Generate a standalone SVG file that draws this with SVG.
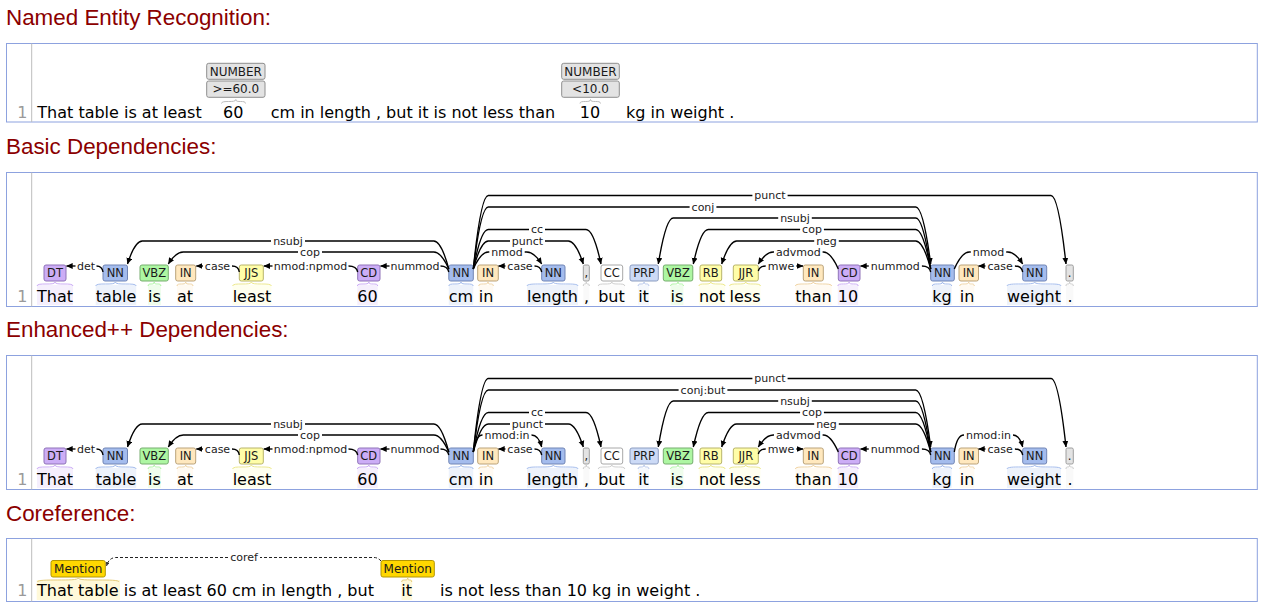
<svg xmlns="http://www.w3.org/2000/svg" width="1263" height="610" viewBox="0 0 1263 610">
<defs>
<marker id="ah" viewBox="0 0 10 10" refX="9.5" refY="5" markerWidth="6.5" markerHeight="6.5" markerUnits="userSpaceOnUse" orient="auto"><path d="M0,0.5 L10,5 L0,9.5 z" fill="#000"/></marker>
<marker id="ah2" viewBox="0 0 10 10" refX="9.5" refY="5" markerWidth="4" markerHeight="4" markerUnits="userSpaceOnUse" orient="auto"><path d="M0,0.5 L10,5 L0,9.5 z" fill="#333"/></marker>
</defs>
<style>
.tt{font-family:"Liberation Sans",Arial,sans-serif;font-size:22.4px;fill:#8B0000}
.fr{fill:#fff;stroke:#8DA2DF;stroke-width:1}
.gt{stroke:#BDBDBD;stroke-width:1}
.ln{font-family:"DejaVu Sans",Verdana,sans-serif;font-size:16px;fill:#9a9a9a;text-anchor:end}
.tk{font-family:"DejaVu Sans",Verdana,sans-serif;font-size:16px;fill:#000;text-anchor:middle}
.sg{font-family:"DejaVu Sans",Verdana,sans-serif;font-size:16px;fill:#000}
.pl{font-family:"DejaVu Sans",Verdana,sans-serif;font-size:11.5px;fill:#1a1a1a;text-anchor:middle}
.al{font-family:"DejaVu Sans",Verdana,sans-serif;font-size:11px;fill:#222;text-anchor:middle}
.nl{font-family:"DejaVu Sans",Verdana,sans-serif;font-size:12px;fill:#1a1a1a;text-anchor:middle}
.a{fill:none;stroke:#000;stroke-width:1.35}
.d{marker-end:url(#ah)}
.cr{fill:none;stroke:#222;stroke-width:1;stroke-dasharray:3,2}
.cu{fill:none;stroke-width:1}
.hl{opacity:.2}
.nn .bx{fill:#A4BCED;stroke:#7185B5}.nn .cu{stroke:#A4BCED}.nn .hl{fill:#A4BCED}
.vb .bx{fill:#ADF6A2;stroke:#76AD6E}.vb .cu{stroke:#ADF6A2}.vb .hl{fill:#ADF6A2}
.in .bx{fill:#FFE8BE;stroke:#BBA37A}.in .cu{stroke:#F0D4A4}.in .hl{fill:#FFE8BE}
.jj .bx{fill:#FFFDA8;stroke:#B8B46A}.jj .cu{stroke:#EDE98C}.jj .hl{fill:#FFFDA8}
.cd .bx{fill:#CCADF6;stroke:#8F73B8}.cd .cu{stroke:#CCADF6}.cd .hl{fill:#CCADF6}
.prp .bx{fill:#CCDAF6;stroke:#8C9DC0}.prp .cu{stroke:#B8C8EC}.prp .hl{fill:#CCDAF6}
.cc .bx{fill:#FFFFFF;stroke:#A8A8A8}.cc .cu{stroke:#CFCFCF}.cc .hl{fill:#EEEEEE}
.pu .bx{fill:#E3E3E3;stroke:#9E9E9E}.pu .cu{stroke:#CCCCCC}.pu .hl{fill:#E3E3E3}
.ne .bx{fill:#E3E3E3;stroke:#8E8E8E}.ne .cu{stroke:#BDBDBD}
.me .bx{fill:#FFD700;stroke:#B39700}.me .cu{stroke:#E6CC7A}.me .hl{fill:#FFD700}
</style>

<text class="tt" x="6" y="25">Named Entity Recognition:</text>
<text class="tt" x="6" y="154">Basic Dependencies:</text>
<text class="tt" x="6" y="337">Enhanced++ Dependencies:</text>
<text class="tt" x="6" y="520.5">Coreference:</text>

<!-- NER -->
<g id="ner-frame">
<rect class="fr" x="6.5" y="43.5" width="1250.8" height="78.5"/>
<line class="gt" x1="31.7" y1="43.5" x2="31.7" y2="122"/>
<text class="ln" x="27.5" y="117.8">1</text>
<text class="sg" x="37.3" y="117.8">That table is at least</text>
<text class="tk" x="233.3" y="117.8">60</text>
<text class="sg" x="270.7" y="117.8">cm in length , but it is not less than</text>
<text class="tk" x="590" y="117.8">10</text>
<text class="sg" x="626" y="117.8">kg in weight .</text>
</g>
<g id="ner-60" class="ne">
<path class="cu" d="M221.5,103.5 C221.5,99.5 235.8,103.5 235.8,99.5 C235.8,103.5 245.5,99.5 245.5,103.5"/>
<rect class="bx" x="206.7" y="63.3" width="58.3" height="16" rx="2"/>
<text class="nl" x="235.8" y="75.6">NUMBER</text>
<rect class="bx" x="206.7" y="81" width="58.3" height="16.3" rx="2"/>
<text class="nl" x="235.8" y="93.4">&gt;=60.0</text>
</g>
<g id="ner-10" class="ne">
<path class="cu" d="M580,103.5 C580,99.5 590.5,103.5 590.5,99.5 C590.5,103.5 600.5,99.5 600.5,103.5"/>
<rect class="bx" x="561.7" y="63.3" width="57.6" height="16" rx="2"/>
<text class="nl" x="590.5" y="75.6">NUMBER</text>
<rect class="bx" x="561.7" y="81" width="57.6" height="16.3" rx="2"/>
<text class="nl" x="590.5" y="93.4">&lt;10.0</text>
</g>

<!-- BASIC -->
<g id="basic-frame">
<rect class="fr" x="6.5" y="172.5" width="1250.8" height="134"/>
<line class="gt" x1="31.7" y1="172.5" x2="31.7" y2="306.5"/>
<text class="ln" x="27.5" y="302">1</text>
</g>
<g id="b1" class="cd"><rect class="hl" x="37" y="285" width="36" height="20"/><path class="cu" d="M37,286 C37,282 55,286 55,282 C55,286 73,282 73,286"/><rect class="bx" x="44" y="265" width="22" height="16" rx="2"/><text class="pl" x="55" y="277">DT</text><text class="tk" x="55" y="302">That</text></g>
<g id="b2" class="nn"><rect class="hl" x="95.7" y="285" width="40.5" height="20"/><path class="cu" d="M95.7,286 C95.7,282 115.3,286 115.3,282 C115.3,286 136.2,282 136.2,286"/><rect class="bx" x="103" y="265" width="24.5" height="16" rx="2"/><text class="pl" x="115.3" y="277">NN</text><text class="tk" x="116" y="302">table</text></g>
<g id="b3" class="vb"><rect class="hl" x="148.1" y="285" width="12.8" height="20"/><path class="cu" d="M148.1,286 C148.1,282 154.2,286 154.2,282 C154.2,286 160.9,282 160.9,286"/><rect class="bx" x="140" y="265" width="28.3" height="16" rx="2"/><text class="pl" x="154.2" y="277">VBZ</text><text class="tk" x="154.5" y="302">is</text></g>
<g id="b4" class="in"><rect class="hl" x="177" y="285" width="16" height="20"/><path class="cu" d="M177,286 C177,282 185.7,286 185.7,282 C185.7,286 193,282 193,286"/><rect class="bx" x="175.7" y="265" width="20" height="16" rx="2"/><text class="pl" x="185.7" y="277">IN</text><text class="tk" x="185" y="302">at</text></g>
<g id="b5" class="jj"><rect class="hl" x="232.6" y="285" width="38.8" height="20"/><path class="cu" d="M232.6,286 C232.6,282 251.3,286 251.3,282 C251.3,286 271.4,282 271.4,286"/><rect class="bx" x="239.3" y="265" width="24" height="16" rx="2"/><text class="pl" x="251.3" y="277">JJS</text><text class="tk" x="252" y="302">least</text></g>
<g id="b6" class="cd"><rect class="hl" x="357.3" y="285" width="20.4" height="20"/><path class="cu" d="M357.3,286 C357.3,282 368.8,286 368.8,282 C368.8,286 377.7,282 377.7,286"/><rect class="bx" x="357.7" y="265" width="22.3" height="16" rx="2"/><text class="pl" x="368.8" y="277">CD</text><text class="tk" x="367.5" y="302">60</text></g>
<g id="b7" class="nn"><rect class="hl" x="448.8" y="285" width="24.4" height="20"/><path class="cu" d="M448.8,286 C448.8,282 461,286 461,282 C461,286 473.2,282 473.2,286"/><rect class="bx" x="448.8" y="265" width="24.5" height="16" rx="2"/><text class="pl" x="461" y="277">NN</text><text class="tk" x="461" y="302">cm</text></g>
<g id="b8" class="in"><rect class="hl" x="478.7" y="285" width="14.6" height="20"/><path class="cu" d="M478.7,286 C478.7,282 488,286 488,282 C488,286 493.3,282 493.3,286"/><rect class="bx" x="477.7" y="265" width="20.6" height="16" rx="2"/><text class="pl" x="488" y="277">IN</text><text class="tk" x="486" y="302">in</text></g>
<g id="b9" class="nn"><rect class="hl" x="527" y="285" width="51" height="20"/><path class="cu" d="M527,286 C527,282 553.3,286 553.3,282 C553.3,286 578,282 578,286"/><rect class="bx" x="541.7" y="265" width="23.3" height="16" rx="2"/><text class="pl" x="553.3" y="277">NN</text><text class="tk" x="552.5" y="302">length</text></g>
<g id="b10" class="pu"><rect class="hl" x="583.3" y="285" width="6" height="20"/><path class="cu" d="M583.3,286 C583.3,282 586.3,286 586.3,282 C586.3,286 589.3,282 589.3,286"/><rect class="bx" x="583.3" y="265" width="6" height="16" rx="1.5"/><text class="pl" x="586.3" y="277">,</text><text class="tk" x="586.5" y="302">,</text></g>
<g id="b11" class="cc"><rect class="hl" x="598.2" y="285" width="26.6" height="20"/><path class="cu" d="M598.2,286 C598.2,282 611.8,286 611.8,282 C611.8,286 624.8,282 624.8,286"/><rect class="bx" x="601" y="265" width="21.7" height="16" rx="2"/><text class="pl" x="611.8" y="277">CC</text><text class="tk" x="611.5" y="302">but</text></g>
<g id="b12" class="prp"><rect class="hl" x="638.1" y="285" width="10.8" height="20"/><path class="cu" d="M638.1,286 C638.1,282 644.1,286 644.1,282 C644.1,286 648.9,282 648.9,286"/><rect class="bx" x="630" y="265" width="28.3" height="16" rx="2"/><text class="pl" x="644.1" y="277">PRP</text><text class="tk" x="643.5" y="302">it</text></g>
<g id="b13" class="vb"><rect class="hl" x="670.6" y="285" width="12.8" height="20"/><path class="cu" d="M670.6,286 C670.6,282 678,286 678,282 C678,286 683.4,282 683.4,286"/><rect class="bx" x="663.3" y="265" width="29.5" height="16" rx="2"/><text class="pl" x="678" y="277">VBZ</text><text class="tk" x="677" y="302">is</text></g>
<g id="b14" class="jj"><rect class="hl" x="698.9" y="285" width="26.2" height="20"/><path class="cu" d="M698.9,286 C698.9,282 710.8,286 710.8,282 C710.8,286 725.1,282 725.1,286"/><rect class="bx" x="700" y="265" width="21.7" height="16" rx="2"/><text class="pl" x="710.8" y="277">RB</text><text class="tk" x="712" y="302">not</text></g>
<g id="b15" class="jj"><rect class="hl" x="729.5" y="285" width="31" height="20"/><path class="cu" d="M729.5,286 C729.5,282 745.8,286 745.8,282 C745.8,286 760.5,282 760.5,286"/><rect class="bx" x="733.3" y="265" width="25" height="16" rx="2"/><text class="pl" x="745.8" y="277">JJR</text><text class="tk" x="745" y="302">less</text></g>
<g id="b16" class="in"><rect class="hl" x="795.3" y="285" width="36.4" height="20"/><path class="cu" d="M795.3,286 C795.3,282 813.3,286 813.3,282 C813.3,286 831.7,282 831.7,286"/><rect class="bx" x="803.3" y="265" width="20" height="16" rx="2"/><text class="pl" x="813.3" y="277">IN</text><text class="tk" x="813.5" y="302">than</text></g>
<g id="b17" class="cd"><rect class="hl" x="837.8" y="285" width="20.4" height="20"/><path class="cu" d="M837.8,286 C837.8,282 849.1,286 849.1,282 C849.1,286 858.2,282 858.2,286"/><rect class="bx" x="838.3" y="265" width="21.7" height="16" rx="2"/><text class="pl" x="849.1" y="277">CD</text><text class="tk" x="848" y="302">10</text></g>
<g id="b18" class="nn"><rect class="hl" x="932.3" y="285" width="19.4" height="20"/><path class="cu" d="M932.3,286 C932.3,282 942.5,286 942.5,282 C942.5,286 951.7,282 951.7,286"/><rect class="bx" x="930.7" y="265" width="23.6" height="16" rx="2"/><text class="pl" x="942.5" y="277">NN</text><text class="tk" x="942" y="302">kg</text></g>
<g id="b19" class="in"><rect class="hl" x="959.7" y="285" width="14.6" height="20"/><path class="cu" d="M959.7,286 C959.7,282 968.7,286 968.7,282 C968.7,286 974.3,282 974.3,286"/><rect class="bx" x="959" y="265" width="19.5" height="16" rx="2"/><text class="pl" x="968.7" y="277">IN</text><text class="tk" x="967" y="302">in</text></g>
<g id="b20" class="nn"><rect class="hl" x="1007" y="285" width="54" height="20"/><path class="cu" d="M1007,286 C1007,282 1034.7,286 1034.7,282 C1034.7,286 1061,282 1061,286"/><rect class="bx" x="1022.7" y="265" width="24" height="16" rx="2"/><text class="pl" x="1034.7" y="277">NN</text><text class="tk" x="1034" y="302">weight</text></g>
<g id="b21" class="pu"><rect class="hl" x="1066" y="285" width="7.3" height="20"/><path class="cu" d="M1066,286 C1066,282 1069.6,286 1069.6,282 C1069.6,286 1073.3,282 1073.3,286"/><rect class="bx" x="1066" y="265" width="7.3" height="16" rx="1.5"/><text class="pl" x="1069.6" y="277">.</text><text class="tk" x="1070" y="302">.</text></g>

<g id="basic-arcs">
<path class="a d" d="M75.5,266 H66.5"/><path class="a" d="M96.5,266 Q102,266 103,272"/><text class="al" x="86" y="269.8">det</text>
<path class="a d" d="M203,266 H196.3"/><path class="a" d="M232,266 Q238.5,266 239.3,272"/><text class="al" x="217.5" y="269.8">case</text>
<path class="a d" d="M272.5,266 H263.8"/><path class="a" d="M348.5,266 Q356.5,266 357.7,272"/><text class="al" x="310.5" y="269.8">nmod:npmod</text>
<path class="a d" d="M389.5,266 H380.5"/><path class="a" d="M440.5,266 Q447.5,266 448.8,272"/><text class="al" x="415" y="269.8">nummod</text>
<path class="a d" d="M271,241 H142.3 Q134.8,241 127.5,264"/><path class="a" d="M305,241 H433.8 Q441.3,241 448.8,269"/><text class="al" x="288" y="244.8">nsubj</text>
<path class="a d" d="M298,252 H183.3 Q175.8,252 168.3,264"/><path class="a" d="M322,252 H433.8 Q441.3,252 448.8,269"/><text class="al" x="310" y="255.8">cop</text>
<path class="a d" d="M505.5,266 H498.5"/><path class="a" d="M534.5,266 Q540.5,266 541.7,272"/><text class="al" x="520" y="269.8">case</text>
<path class="a" d="M489.3,252 H488.3 Q480.8,252 473.3,269"/><path class="a d" d="M524.7,252 H526.7 Q534.2,252 541.7,264"/><text class="al" x="507" y="255.8">nmod</text>
<path class="a" d="M510,241 H488.3 Q480.8,241 473.3,269"/><path class="a d" d="M545,241 H568.3 Q575.8,241 583.3,264"/><text class="al" x="527.5" y="244.8">punct</text>
<path class="a" d="M529,229.5 H488.3 Q480.8,229.5 473.3,269"/><path class="a d" d="M545,229.5 H586 Q593.5,229.5 601,264"/><text class="al" x="537" y="233.3">cc</text>
<path class="a" d="M689.6,207 H488.3 Q480.8,207 473.3,269"/><path class="a d" d="M716.4,207 H915.7 Q923.2,207 930.7,264"/><text class="al" x="703" y="210.8">conj</text>
<path class="a" d="M752.4,195.5 H488.3 Q480.8,195.5 473.3,269"/><path class="a d" d="M787.6,195.5 H1051 Q1058.5,195.5 1066,264"/><text class="al" x="770" y="199.3">punct</text>
<path class="a d" d="M778.2,218 H673.3 Q665.8,218 658.3,264"/><path class="a" d="M811.8,218 H915.7 Q923.2,218 930.7,269"/><text class="al" x="795" y="221.8">nsubj</text>
<path class="a d" d="M800.1,229.5 H708.3 Q700.8,229.5 693.3,264"/><path class="a" d="M823.9,229.5 H915.7 Q923.2,229.5 930.7,269"/><text class="al" x="812" y="233.3">cop</text>
<path class="a d" d="M814.2,241 H736.7 Q729.2,241 721.7,264"/><path class="a" d="M838.8,241 H915.7 Q923.2,241 930.7,269"/><text class="al" x="826.5" y="244.8">neg</text>
<path class="a d" d="M774,252 H773.3 Q765.8,252 758.3,264"/><path class="a" d="M822.6,252 H823.3 Q830.8,252 838.3,269"/><text class="al" x="798.3" y="255.8">advmod</text>
<path class="a" d="M765.7,266 Q759.5,266 758.3,271"/><path class="a d" d="M796.3,266 H803"/><text class="al" x="781" y="269.8">mwe</text>
<path class="a d" d="M868.8,266 H860.5"/><path class="a" d="M921.9,266 Q929.5,266 930.7,272"/><text class="al" x="895.3" y="269.8">nummod</text>
<path class="a" d="M970.8,252 H969.3 Q961.8,252 954.3,269"/><path class="a d" d="M1006.2,252 H1007.7 Q1015.2,252 1022.7,264"/><text class="al" x="988.5" y="255.8">nmod</text>
<path class="a d" d="M985.5,266 H978.5"/><path class="a" d="M1014.9,266 Q1021.5,266 1022.7,272"/><text class="al" x="1000.2" y="269.8">case</text>
</g>

<!-- ENHANCED -->
<g id="enh-frame">
<rect class="fr" x="6.5" y="355.5" width="1250.8" height="134"/>
<line class="gt" x1="31.7" y1="355.5" x2="31.7" y2="489.5"/>
<text class="ln" x="27.5" y="485">1</text>
</g>
<g transform="translate(0,183)">
<g id="e1" class="cd"><rect class="hl" x="37" y="285" width="36" height="20"/><path class="cu" d="M37,286 C37,282 55,286 55,282 C55,286 73,282 73,286"/><rect class="bx" x="44" y="265" width="22" height="16" rx="2"/><text class="pl" x="55" y="277">DT</text><text class="tk" x="55" y="302">That</text></g>
<g id="e2" class="nn"><rect class="hl" x="95.7" y="285" width="40.5" height="20"/><path class="cu" d="M95.7,286 C95.7,282 115.3,286 115.3,282 C115.3,286 136.2,282 136.2,286"/><rect class="bx" x="103" y="265" width="24.5" height="16" rx="2"/><text class="pl" x="115.3" y="277">NN</text><text class="tk" x="116" y="302">table</text></g>
<g id="e3" class="vb"><rect class="hl" x="148.1" y="285" width="12.8" height="20"/><path class="cu" d="M148.1,286 C148.1,282 154.2,286 154.2,282 C154.2,286 160.9,282 160.9,286"/><rect class="bx" x="140" y="265" width="28.3" height="16" rx="2"/><text class="pl" x="154.2" y="277">VBZ</text><text class="tk" x="154.5" y="302">is</text></g>
<g id="e4" class="in"><rect class="hl" x="177" y="285" width="16" height="20"/><path class="cu" d="M177,286 C177,282 185.7,286 185.7,282 C185.7,286 193,282 193,286"/><rect class="bx" x="175.7" y="265" width="20" height="16" rx="2"/><text class="pl" x="185.7" y="277">IN</text><text class="tk" x="185" y="302">at</text></g>
<g id="e5" class="jj"><rect class="hl" x="232.6" y="285" width="38.8" height="20"/><path class="cu" d="M232.6,286 C232.6,282 251.3,286 251.3,282 C251.3,286 271.4,282 271.4,286"/><rect class="bx" x="239.3" y="265" width="24" height="16" rx="2"/><text class="pl" x="251.3" y="277">JJS</text><text class="tk" x="252" y="302">least</text></g>
<g id="e6" class="cd"><rect class="hl" x="357.3" y="285" width="20.4" height="20"/><path class="cu" d="M357.3,286 C357.3,282 368.8,286 368.8,282 C368.8,286 377.7,282 377.7,286"/><rect class="bx" x="357.7" y="265" width="22.3" height="16" rx="2"/><text class="pl" x="368.8" y="277">CD</text><text class="tk" x="367.5" y="302">60</text></g>
<g id="e7" class="nn"><rect class="hl" x="448.8" y="285" width="24.4" height="20"/><path class="cu" d="M448.8,286 C448.8,282 461,286 461,282 C461,286 473.2,282 473.2,286"/><rect class="bx" x="448.8" y="265" width="24.5" height="16" rx="2"/><text class="pl" x="461" y="277">NN</text><text class="tk" x="461" y="302">cm</text></g>
<g id="e8" class="in"><rect class="hl" x="478.7" y="285" width="14.6" height="20"/><path class="cu" d="M478.7,286 C478.7,282 488,286 488,282 C488,286 493.3,282 493.3,286"/><rect class="bx" x="477.7" y="265" width="20.6" height="16" rx="2"/><text class="pl" x="488" y="277">IN</text><text class="tk" x="486" y="302">in</text></g>
<g id="e9" class="nn"><rect class="hl" x="527" y="285" width="51" height="20"/><path class="cu" d="M527,286 C527,282 553.3,286 553.3,282 C553.3,286 578,282 578,286"/><rect class="bx" x="541.7" y="265" width="23.3" height="16" rx="2"/><text class="pl" x="553.3" y="277">NN</text><text class="tk" x="552.5" y="302">length</text></g>
<g id="e10" class="pu"><rect class="hl" x="583.3" y="285" width="6" height="20"/><path class="cu" d="M583.3,286 C583.3,282 586.3,286 586.3,282 C586.3,286 589.3,282 589.3,286"/><rect class="bx" x="583.3" y="265" width="6" height="16" rx="1.5"/><text class="pl" x="586.3" y="277">,</text><text class="tk" x="586.5" y="302">,</text></g>
<g id="e11" class="cc"><rect class="hl" x="598.2" y="285" width="26.6" height="20"/><path class="cu" d="M598.2,286 C598.2,282 611.8,286 611.8,282 C611.8,286 624.8,282 624.8,286"/><rect class="bx" x="601" y="265" width="21.7" height="16" rx="2"/><text class="pl" x="611.8" y="277">CC</text><text class="tk" x="611.5" y="302">but</text></g>
<g id="e12" class="prp"><rect class="hl" x="638.1" y="285" width="10.8" height="20"/><path class="cu" d="M638.1,286 C638.1,282 644.1,286 644.1,282 C644.1,286 648.9,282 648.9,286"/><rect class="bx" x="630" y="265" width="28.3" height="16" rx="2"/><text class="pl" x="644.1" y="277">PRP</text><text class="tk" x="643.5" y="302">it</text></g>
<g id="e13" class="vb"><rect class="hl" x="670.6" y="285" width="12.8" height="20"/><path class="cu" d="M670.6,286 C670.6,282 678,286 678,282 C678,286 683.4,282 683.4,286"/><rect class="bx" x="663.3" y="265" width="29.5" height="16" rx="2"/><text class="pl" x="678" y="277">VBZ</text><text class="tk" x="677" y="302">is</text></g>
<g id="e14" class="jj"><rect class="hl" x="698.9" y="285" width="26.2" height="20"/><path class="cu" d="M698.9,286 C698.9,282 710.8,286 710.8,282 C710.8,286 725.1,282 725.1,286"/><rect class="bx" x="700" y="265" width="21.7" height="16" rx="2"/><text class="pl" x="710.8" y="277">RB</text><text class="tk" x="712" y="302">not</text></g>
<g id="e15" class="jj"><rect class="hl" x="729.5" y="285" width="31" height="20"/><path class="cu" d="M729.5,286 C729.5,282 745.8,286 745.8,282 C745.8,286 760.5,282 760.5,286"/><rect class="bx" x="733.3" y="265" width="25" height="16" rx="2"/><text class="pl" x="745.8" y="277">JJR</text><text class="tk" x="745" y="302">less</text></g>
<g id="e16" class="in"><rect class="hl" x="795.3" y="285" width="36.4" height="20"/><path class="cu" d="M795.3,286 C795.3,282 813.3,286 813.3,282 C813.3,286 831.7,282 831.7,286"/><rect class="bx" x="803.3" y="265" width="20" height="16" rx="2"/><text class="pl" x="813.3" y="277">IN</text><text class="tk" x="813.5" y="302">than</text></g>
<g id="e17" class="cd"><rect class="hl" x="837.8" y="285" width="20.4" height="20"/><path class="cu" d="M837.8,286 C837.8,282 849.1,286 849.1,282 C849.1,286 858.2,282 858.2,286"/><rect class="bx" x="838.3" y="265" width="21.7" height="16" rx="2"/><text class="pl" x="849.1" y="277">CD</text><text class="tk" x="848" y="302">10</text></g>
<g id="e18" class="nn"><rect class="hl" x="932.3" y="285" width="19.4" height="20"/><path class="cu" d="M932.3,286 C932.3,282 942.5,286 942.5,282 C942.5,286 951.7,282 951.7,286"/><rect class="bx" x="930.7" y="265" width="23.6" height="16" rx="2"/><text class="pl" x="942.5" y="277">NN</text><text class="tk" x="942" y="302">kg</text></g>
<g id="e19" class="in"><rect class="hl" x="959.7" y="285" width="14.6" height="20"/><path class="cu" d="M959.7,286 C959.7,282 968.7,286 968.7,282 C968.7,286 974.3,282 974.3,286"/><rect class="bx" x="959" y="265" width="19.5" height="16" rx="2"/><text class="pl" x="968.7" y="277">IN</text><text class="tk" x="967" y="302">in</text></g>
<g id="e20" class="nn"><rect class="hl" x="1007" y="285" width="54" height="20"/><path class="cu" d="M1007,286 C1007,282 1034.7,286 1034.7,282 C1034.7,286 1061,282 1061,286"/><rect class="bx" x="1022.7" y="265" width="24" height="16" rx="2"/><text class="pl" x="1034.7" y="277">NN</text><text class="tk" x="1034" y="302">weight</text></g>
<g id="e21" class="pu"><rect class="hl" x="1066" y="285" width="7.3" height="20"/><path class="cu" d="M1066,286 C1066,282 1069.6,286 1069.6,282 C1069.6,286 1073.3,282 1073.3,286"/><rect class="bx" x="1066" y="265" width="7.3" height="16" rx="1.5"/><text class="pl" x="1069.6" y="277">.</text><text class="tk" x="1070" y="302">.</text></g>

<g id="enh-arcs">
<path class="a d" d="M75.5,266 H66.5"/><path class="a" d="M96.5,266 Q102,266 103,272"/><text class="al" x="86" y="269.8">det</text>
<path class="a d" d="M203,266 H196.3"/><path class="a" d="M232,266 Q238.5,266 239.3,272"/><text class="al" x="217.5" y="269.8">case</text>
<path class="a d" d="M272.5,266 H263.8"/><path class="a" d="M348.5,266 Q356.5,266 357.7,272"/><text class="al" x="310.5" y="269.8">nmod:npmod</text>
<path class="a d" d="M389.5,266 H380.5"/><path class="a" d="M440.5,266 Q447.5,266 448.8,272"/><text class="al" x="415" y="269.8">nummod</text>
<path class="a d" d="M271,241 H142.3 Q134.8,241 127.5,264"/><path class="a" d="M305,241 H433.8 Q441.3,241 448.8,269"/><text class="al" x="288" y="244.8">nsubj</text>
<path class="a d" d="M298,252 H183.3 Q175.8,252 168.3,264"/><path class="a" d="M322,252 H433.8 Q441.3,252 448.8,269"/><text class="al" x="310" y="255.8">cop</text>
<path class="a d" d="M505.5,266 H498.5"/><path class="a" d="M534.5,266 Q540.5,266 541.7,272"/><text class="al" x="520" y="269.8">case</text>
<path class="a" d="M482.5,252 Q476,252 473.3,269"/><path class="a d" d="M531.5,252 Q538.5,252 541.7,264"/><text class="al" x="507" y="255.8">nmod:in</text>
<path class="a" d="M510,241 H488.3 Q480.8,241 473.3,269"/><path class="a d" d="M545,241 H568.3 Q575.8,241 583.3,264"/><text class="al" x="527.5" y="244.8">punct</text>
<path class="a" d="M529,229.5 H488.3 Q480.8,229.5 473.3,269"/><path class="a d" d="M545,229.5 H586 Q593.5,229.5 601,264"/><text class="al" x="537" y="233.3">cc</text>
<path class="a" d="M678.6,207 H488.3 Q480.8,207 473.3,269"/><path class="a d" d="M727.4,207 H915.7 Q923.2,207 930.7,264"/><text class="al" x="703" y="210.8">conj:but</text>
<path class="a" d="M752.4,195.5 H488.3 Q480.8,195.5 473.3,269"/><path class="a d" d="M787.6,195.5 H1051 Q1058.5,195.5 1066,264"/><text class="al" x="770" y="199.3">punct</text>
<path class="a d" d="M778.2,218 H673.3 Q665.8,218 658.3,264"/><path class="a" d="M811.8,218 H915.7 Q923.2,218 930.7,269"/><text class="al" x="795" y="221.8">nsubj</text>
<path class="a d" d="M800.1,229.5 H708.3 Q700.8,229.5 693.3,264"/><path class="a" d="M823.9,229.5 H915.7 Q923.2,229.5 930.7,269"/><text class="al" x="812" y="233.3">cop</text>
<path class="a d" d="M814.2,241 H736.7 Q729.2,241 721.7,264"/><path class="a" d="M838.8,241 H915.7 Q923.2,241 930.7,269"/><text class="al" x="826.5" y="244.8">neg</text>
<path class="a d" d="M774,252 H773.3 Q765.8,252 758.3,264"/><path class="a" d="M822.6,252 H823.3 Q830.8,252 838.3,269"/><text class="al" x="798.3" y="255.8">advmod</text>
<path class="a" d="M765.7,266 Q759.5,266 758.3,271"/><path class="a d" d="M796.3,266 H803"/><text class="al" x="781" y="269.8">mwe</text>
<path class="a d" d="M868.8,266 H860.5"/><path class="a" d="M921.9,266 Q929.5,266 930.7,272"/><text class="al" x="895.3" y="269.8">nummod</text>
<path class="a" d="M964,252 Q957,252 954.3,269"/><path class="a d" d="M1013,252 Q1019.5,252 1022.7,264"/><text class="al" x="988.5" y="255.8">nmod:in</text>
<path class="a d" d="M985.5,266 H978.5"/><path class="a" d="M1014.9,266 Q1021.5,266 1022.7,272"/><text class="al" x="1000.2" y="269.8">case</text>
</g>
</g>

<!-- COREFERENCE -->
<g id="coref-frame">
<rect class="fr" x="6.5" y="538.5" width="1250.8" height="63"/>
<line class="gt" x1="31.7" y1="538.5" x2="31.7" y2="601.5"/>
<text class="ln" x="27.5" y="596">1</text>
<rect x="36.7" y="580" width="83.3" height="20" fill="#FFD700" opacity="0.15"/>
<rect x="401.5" y="580" width="10.7" height="20" fill="#FFD700" opacity="0.15"/>
<text class="sg" x="37" y="596">That table is at least 60 cm in length , but</text>
<text class="tk" x="406.7" y="596">it</text>
<text class="sg" x="440" y="596">is not less than 10 kg in weight .</text>
</g>
<g id="m1" class="me">
<path class="cu" d="M37.3,582 C37.3,578 78.2,582 78.2,578 C78.2,582 119,578 119,582"/>
<rect class="bx" x="51" y="560.5" width="54.3" height="16.5" rx="2"/>
<text class="nl" x="78.2" y="572.8">Mention</text>
</g>
<g id="m2" class="me">
<path class="cu" d="M401.7,582 C401.7,578 407.7,582 407.7,578 C407.7,582 411.7,578 411.7,582"/>
<rect class="bx" x="381" y="560.5" width="53.3" height="16.5" rx="2"/>
<text class="nl" x="407.7" y="572.8">Mention</text>
</g>
<g id="coref-arcs">
<path class="cr" d="M381,561 Q378,557.5 374,557.5 H260"/>
<path class="cr" d="M228,557.5 H116 Q109,557.5 106.5,566" marker-end="url(#ah2)"/>
<text class="al" x="244" y="561.3">coref</text>
</g>
</svg>
